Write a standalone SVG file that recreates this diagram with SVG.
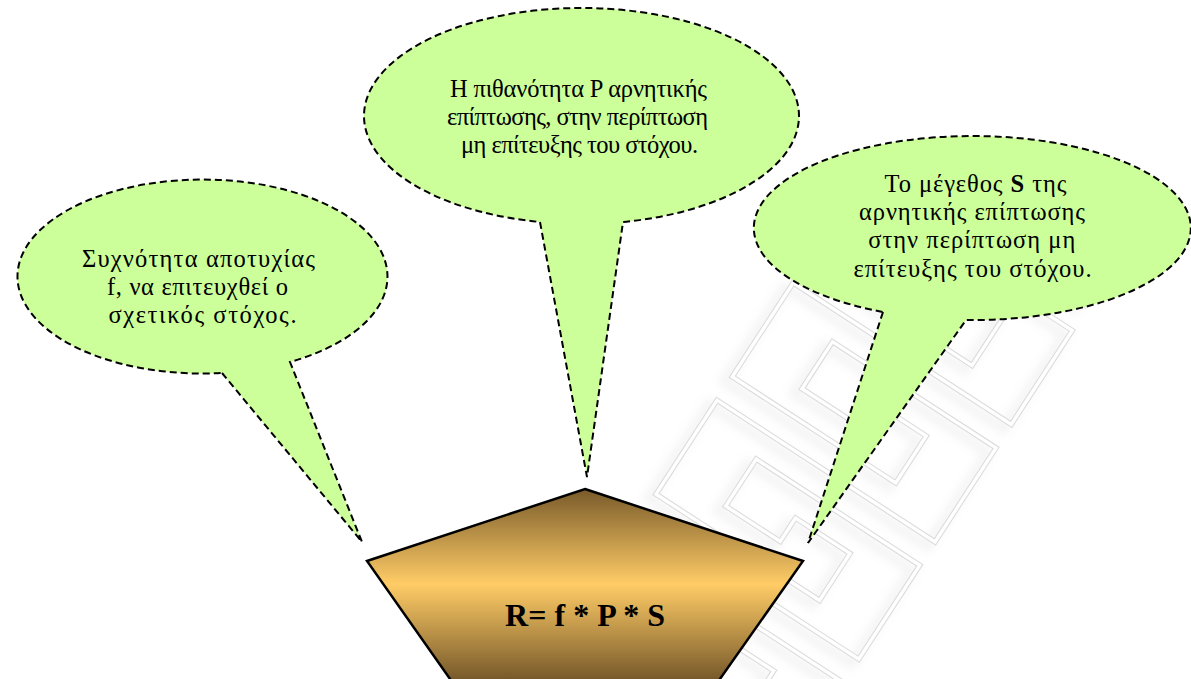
<svg xmlns="http://www.w3.org/2000/svg" width="1191" height="679" viewBox="0 0 1191 679">
  <defs>
    <linearGradient id="gold" gradientUnits="userSpaceOnUse" x1="0" y1="489" x2="0" y2="679">
      <stop offset="0" stop-color="#785a2a"/>
      <stop offset="0.5" stop-color="#ffcc66"/>
      <stop offset="1" stop-color="#785a2a"/>
    </linearGradient>
    <filter id="soft" x="-20%" y="-20%" width="140%" height="140%">
      <feGaussianBlur stdDeviation="5"/>
    </filter>
    <path id="key" d="M110,-230 L-150,-230 L-150,-118 L45,-118 L45,-174 L-20,-174 L-20,-146 L-85,-146 L-85,-202 L110,-202 L110,-90
      L-150,-90 L-150,22 L45,22 L45,-34 L-20,-34 L-20,-6 L-85,-6 L-85,-62 L110,-62 L110,50
      L-150,50 L-150,162 L45,162 L45,106 L-20,106 L-20,134 L-85,134 L-85,78 L110,78 L110,190
      L-150,190 L-150,302 L45,302 L45,246 L-20,246 L-20,274 L-85,274 L-85,218 L110,218 L110,330"/>
  </defs>
  <style>
    .bubble { fill: #ccff99; stroke: #000; stroke-width: 2; stroke-dasharray: 7 4; stroke-linejoin: miter; }
    .txt { font-family: "Liberation Serif", "DejaVu Serif", serif; font-size: 24.5px; fill: #000; text-anchor: middle; }
    .formula { font-family: "Liberation Serif", "DejaVu Serif", serif; font-size: 32px; font-weight: bold; fill: #000; text-anchor: middle; }
  </style>

  <rect width="1191" height="679" fill="#ffffff"/>

  <!-- faint meander ornament in the background -->
  <g id="ornament" transform="translate(870,440) rotate(33)" fill="none" stroke-linejoin="miter">
    <use href="#key" stroke="#000" stroke-opacity="0.045" stroke-width="10" filter="url(#soft)" transform="translate(-4,8)"/>
    <use href="#key" stroke="#dcdcdc" stroke-width="5.5"/>
    <use href="#key" stroke="#ffffff" stroke-width="3.3"/>
  </g>

  <g id="connectors"></g>

  <!-- callout: failure frequency -->
  <g id="bubble-f">
    <path class="bubble" d="M222,373 L362,542 L290,362 A185,97 0 1 0 222,373 Z"/>
    <text class="txt" x="198.5" y="266.7" textLength="233">Συχνότητα αποτυχίας</text>
    <text class="txt" x="197.5" y="295" textLength="181">f, να επιτευχθεί ο</text>
    <text class="txt" x="202.5" y="323.3" textLength="188">σχετικός στόχος.</text>
  </g>

  <!-- callout: probability of negative impact -->
  <g id="bubble-p">
    <path class="bubble" d="M540,222 L587,477 L623,222 A217.5,108 0 1 0 540,222 Z"/>
    <text class="txt" x="578.5" y="96.7" textLength="257">Η πιθανότητα P αρνητικής</text>
    <text class="txt" x="577.5" y="125" textLength="261">επίπτωσης, στην περίπτωση</text>
    <text class="txt" x="579.5" y="153.3" textLength="237">μη επίτευξης του στόχου.</text>
  </g>

  <!-- callout: size of negative impact -->
  <g id="bubble-s">
    <path class="bubble" d="M883,312 L808,543 L966,320 A218.5,92 0 1 0 883,312 Z"/>
    <text class="txt" x="975.5" y="191.7" textLength="182">Το μέγεθος <tspan font-weight="bold">S</tspan> της</text>
    <text class="txt" x="972" y="220" textLength="226">αρνητικής επίπτωσης</text>
    <text class="txt" x="971.7" y="248.3" textLength="207">στην περίπτωση μη</text>
    <text class="txt" x="972.5" y="276.7" textLength="238">επίτευξης του στόχου.</text>
  </g>

  <!-- risk formula -->
  <g id="risk">
    <polygon points="585,489 803,561 677,740 493,740 367,561" fill="url(#gold)" stroke="#000" stroke-width="2.5" stroke-linejoin="miter"/>
    <text class="formula" x="585" y="626" textLength="160">R= f * P * S</text>
  </g>
</svg>
